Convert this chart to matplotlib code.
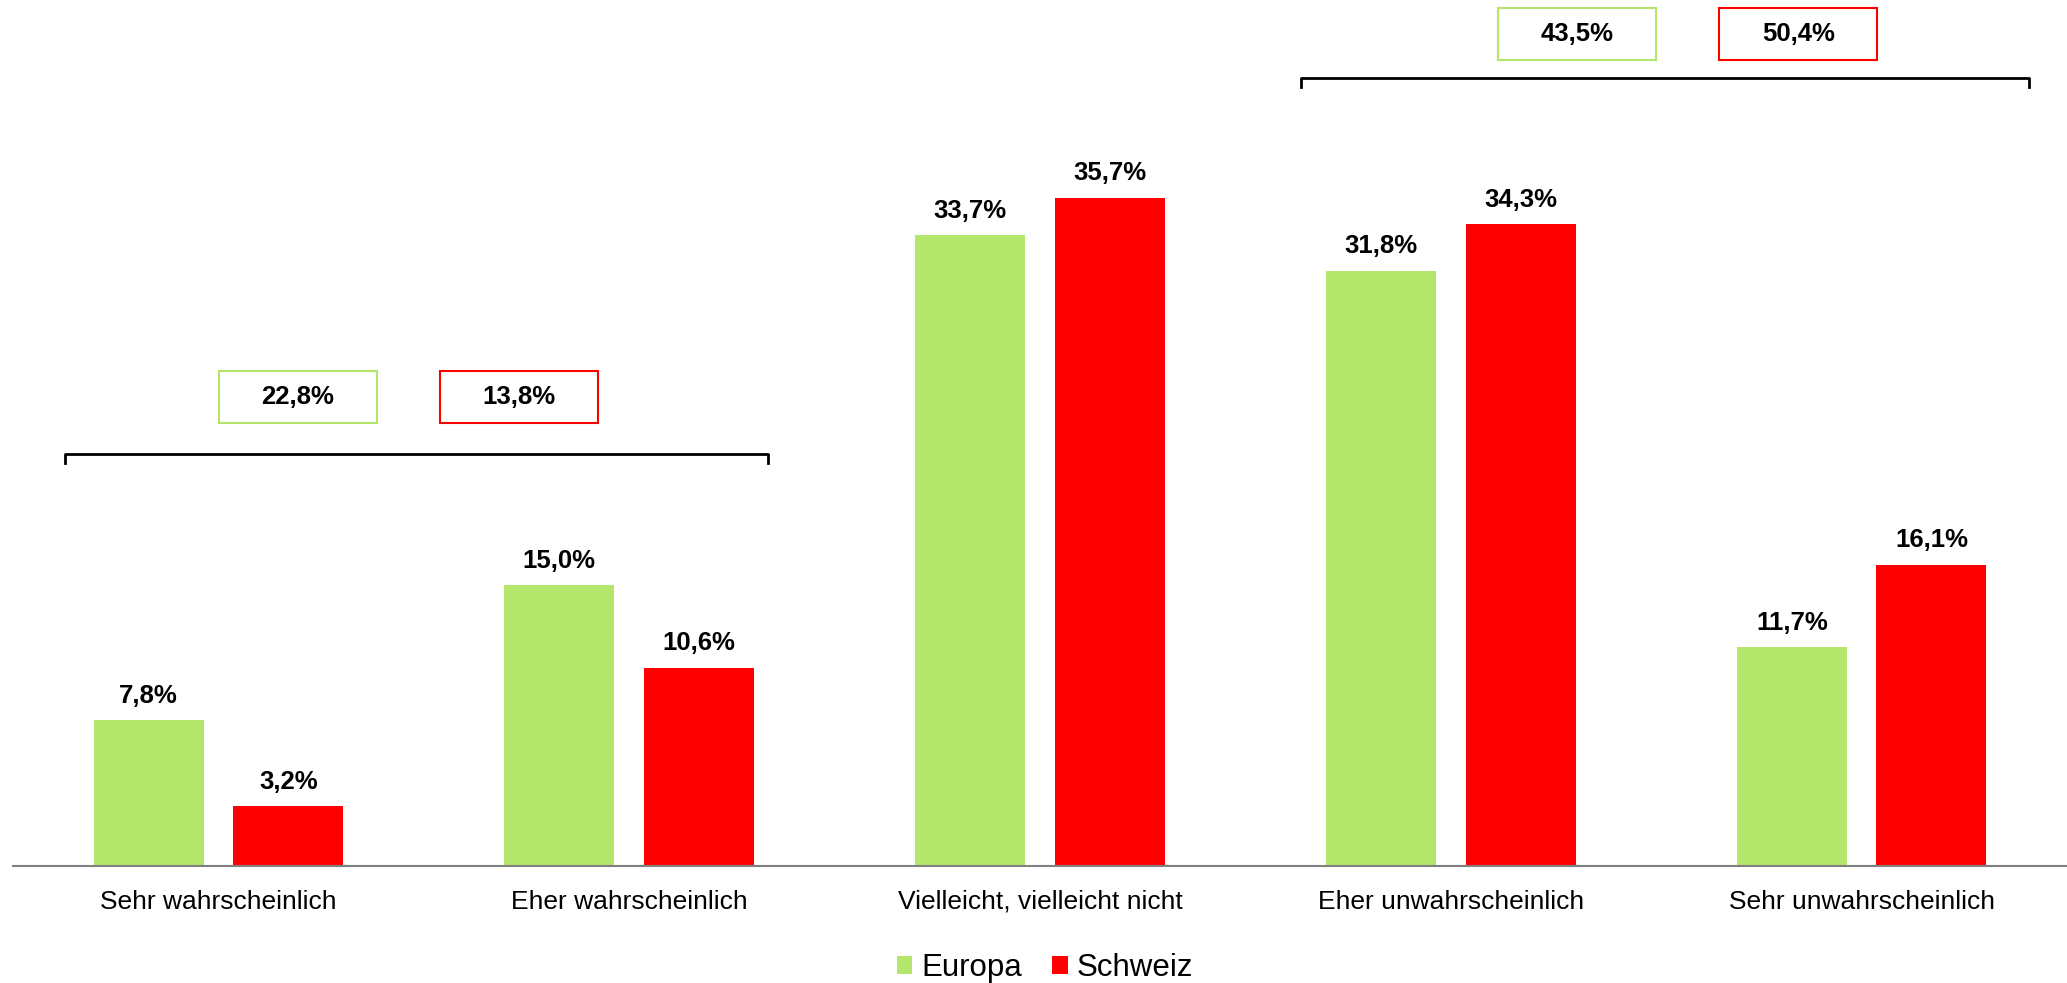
import matplotlib
matplotlib.use("Agg")
import matplotlib.pyplot as plt
from matplotlib.patches import Rectangle
import numpy as np

plt.rcParams['font.family'] = ['Liberation Sans', 'DejaVu Sans']

categories = ['Sehr wahrscheinlich', 'Eher wahrscheinlich', 'Vielleicht, vielleicht nicht',
              'Eher unwahrscheinlich', 'Sehr unwahrscheinlich']
europa = [7.8, 15.0, 33.7, 31.8, 11.7]
schweiz = [3.2, 10.6, 35.7, 34.3, 16.1]

green = '#b3e66b'
red = '#ff0000'

def fmt(v):
    return f'{v:.1f}%'.replace('.', ',')

fig = plt.figure(figsize=(20.67, 9.83), dpi=100)
ax = fig.add_axes([13 / 2067, 117 / 983, 1 - 13 / 2067, 866 / 983])

x = np.arange(len(categories))
w = 0.268
b1 = ax.bar(x - 0.17, europa, w, color=green, label='Europa')
b2 = ax.bar(x + 0.17, schweiz, w, color=red, label='Schweiz')

for bars, vals in ((b1, europa), (b2, schweiz)):
    for r, v in zip(bars, vals):
        ax.annotate(fmt(v), (r.get_x() + r.get_width() / 2, v), xytext=(0, 12.5),
                    textcoords='offset points', ha='center', va='baseline',
                    fontsize=18.5, fontweight='bold')

ax.set_xlim(-0.5, 4.5)
ax.set_ylim(0, 46.26)
ax.set_xticks(x)
ax.set_xticklabels(categories, fontsize=19)
ax.tick_params(axis='x', length=0, pad=17)
ax.set_yticks([])
for s in ('top', 'right', 'left'):
    ax.spines[s].set_visible(False)
ax.spines['bottom'].set_color('#808080')
ax.spines['bottom'].set_linewidth(1.5)

# brackets with summed shares: (bracket x0, x1, bracket y, box y, box centres, members)
groups = [
    (-0.373, 1.339, 22.03, 25.05, (0.193, 0.731), [0, 1]),
    (2.635, 4.407, 42.1, 44.46, (3.308, 3.846), [3, 4]),
]
for x0, x1, yb, yt, (ce, cs), idx in groups:
    ax.plot([x0, x0, x1, x1], [yb - 0.5, yb, yb, yb - 0.5], color='black', lw=2,
            clip_on=False)
    tot_e = sum(europa[i] for i in idx)
    tot_s = sum(schweiz[i] for i in idx)
    for cx, val, col in ((ce, tot_e, green), (cs, tot_s, red)):
        ax.add_patch(Rectangle((cx - 0.192, yt - 1.39), 0.384, 2.78, fill=False,
                               edgecolor=col, lw=1.5, clip_on=False))
        ax.text(cx, yt, fmt(val), ha='center', va='center', fontsize=18.5,
                fontweight='bold')

fig.legend(handles=[b1, b2], loc='center', bbox_to_anchor=(1045 / 2067, 1 - 968 / 983),
           ncol=2, frameon=False, fontsize=22.5, handlelength=0.5, handleheight=0.5,
           handletextpad=0.3, columnspacing=0.95)

fig.savefig('out.png', dpi=100)
